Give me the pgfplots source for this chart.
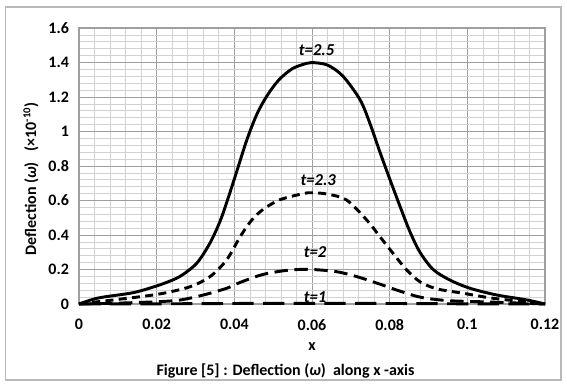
\documentclass[border=0pt]{standalone}
\usepackage{fontspec}
\setmainfont{Carlito}
\usepackage{pgfplots}
\pgfplotsset{compat=1.18}
\begin{document}
\begin{tikzpicture}
\useasboundingbox (-59.25pt,-60.75pt) rectangle (366pt,228pt);
\draw[gray!55, line width=0.8pt] (-55.1pt,-57pt) rectangle (361.5pt,222.75pt);
\begin{axis}[
  at={(0,0)}, anchor=south west,
  scale only axis, width=349.5pt, height=207pt,
  xmin=0, xmax=0.12, ymin=0, ymax=1.6,
  xtick={0,0.02,...,0.12}, ytick={0,0.2,...,1.6},
  xticklabels={0,0.02,0.04,0.06,0.08,0.1,0.12},
  yticklabels={0,0.2,0.4,0.6,0.8,1,1.2,1.4,1.6},
  minor x tick num=4, minor y tick num=4,
  grid=both,
  major grid style={draw=gray!75, line width=0.6pt},
  minor grid style={draw=gray!35, line width=0.5pt},
  axis line style={draw=gray!75, line width=0.8pt},
  major tick length=0pt, minor tick length=0pt,
  /pgf/number format/assume math mode=true,
  ticklabel style={font=\fontsize{12}{14}\selectfont\bfseries},
  xticklabel style={yshift=-8pt},
  yticklabel style={xshift=-4pt},
  clip=false,
]
\addplot[black, line width=2.2pt, smooth] coordinates {
(0,0) (0.005,0.035) (0.0131,0.062) (0.0166,0.081) (0.0217,0.118) (0.026,0.16) (0.0303,0.236) (0.0337,0.352) (0.0363,0.478) (0.0382,0.6) (0.0405,0.76) (0.0432,0.95) (0.0458,1.1) (0.0485,1.21) (0.0515,1.3) (0.055,1.365) (0.0586,1.395) (0.06,1.4)
(0.064,1.385) (0.068,1.32) (0.0724,1.183) (0.0749,1.048) (0.0775,0.88) (0.0801,0.72) (0.0827,0.564) (0.0852,0.42) (0.0878,0.3) (0.0912,0.2) (0.0955,0.139) (0.1007,0.091) (0.1076,0.052) (0.115,0.025) (0.12,0)
};
\addplot[black, line width=2.2pt, dash pattern=on 6pt off 4pt, smooth] coordinates {
(0,0) (0.006,0.016) (0.0157,0.042) (0.0217,0.062) (0.0286,0.1) (0.0337,0.158) (0.038,0.255) (0.0415,0.39) (0.0445,0.487) (0.0475,0.55) (0.0518,0.605) (0.0578,0.64) (0.06,0.645)
(0.064,0.637) (0.0689,0.603) (0.0741,0.487) (0.0775,0.39) (0.081,0.29) (0.0844,0.197) (0.0878,0.129) (0.0921,0.088) (0.099,0.062) (0.1067,0.033) (0.12,0)
};
\addplot[black, line width=2.2pt, dash pattern=on 10pt off 5pt, smooth] coordinates {
(0,0) (0.01,0.005) (0.02,0.013) (0.026,0.023) (0.032,0.052) (0.038,0.091) (0.0415,0.125) (0.0475,0.172) (0.0543,0.197) (0.06,0.2) (0.0664,0.187) (0.0715,0.159) (0.0775,0.115) (0.0818,0.081) (0.0878,0.04) (0.0947,0.02) (0.105,0.012) (0.12,0)
};
\addplot[black, line width=2.2pt, dash pattern=on 16pt off 7pt, smooth] coordinates {
(0,0) (0.02,0.001) (0.04,0.003) (0.06,0.004) (0.08,0.003) (0.1,0.001) (0.12,0)
};
\node[font=\fontsize{12.5}{14}\selectfont\bfseries\itshape] at (axis cs:0.0612,1.472) {t=2.5};
\node[font=\fontsize{12.5}{14}\selectfont\bfseries\itshape] at (axis cs:0.0616,0.719) {t=2.3};
\node[font=\fontsize{12.5}{14}\selectfont\bfseries\itshape] at (axis cs:0.0608,0.303) {t=2};
\node[font=\fontsize{12.5}{14}\selectfont\bfseries\itshape] at (axis cs:0.0608,0.042) {t=1};
\end{axis}
\node[font=\fontsize{12}{14}\selectfont\bfseries] at (174.75pt,-32.25pt) {x};
\node[font=\fontsize{12}{14}\selectfont\bfseries] at (154.9pt,-50.25pt) {Figure [5] : Deflection (\textit{ω})\ \ along x -axis};
\node[rotate=90, font=\fontsize{12}{14}\selectfont\bfseries] at (-36pt,93.75pt) {Deflection (\textit{ω})\ \ \ (×10\textsuperscript{-10})};
\end{tikzpicture}
\end{document}
